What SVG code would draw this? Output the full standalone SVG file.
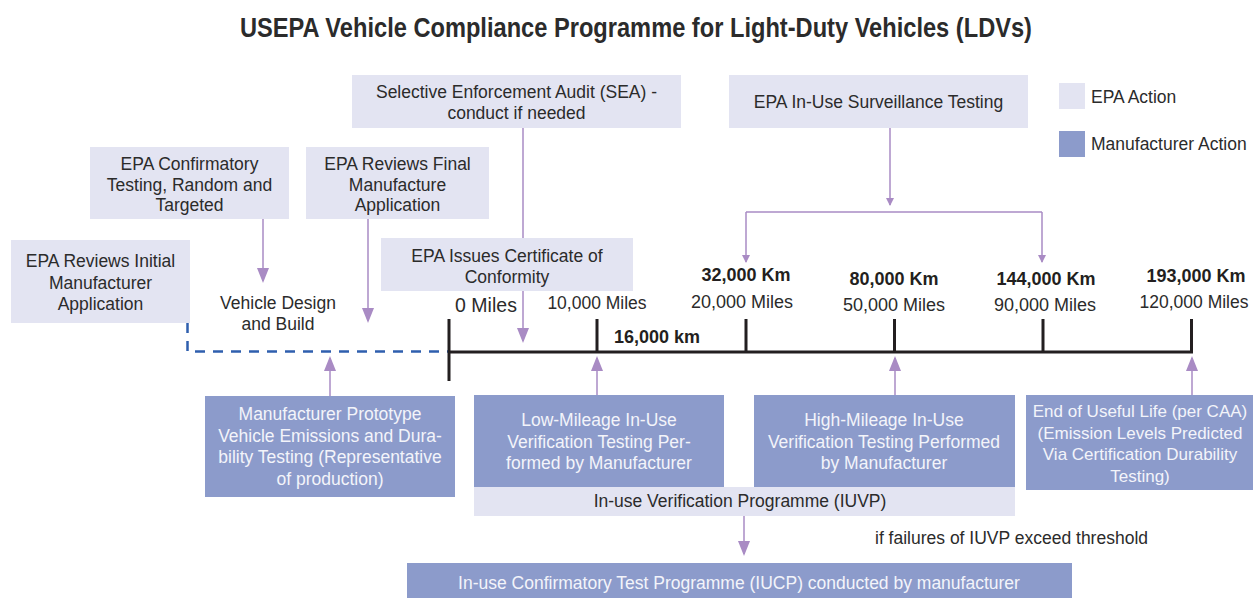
<svg xmlns="http://www.w3.org/2000/svg" width="1253" height="598" viewBox="0 0 1253 598">
  <style>
    text { font-family: "Liberation Sans", Arial, sans-serif; fill: #2b2b2b; }
    .t { font-size: 17.5px; text-anchor: middle; }
    .w { fill: #f3f4fa; }
    .km { font-size: 18px; font-weight: bold; text-anchor: middle; fill: #231f20; }
    .mi { font-size: 18px; text-anchor: middle; }
    .epa { fill: #e3e4f2; }
    .mfr { fill: #8c9bcb; }
    .arrow { fill: none; stroke: #a98bc4; stroke-width: 1.5; }
    .big { marker-end: url(#head); }
    .small { marker-end: url(#headSmall); }
    .axis { stroke: #231f20; stroke-width: 3; fill: none; }
  </style>
  <defs>
    <marker id="head" viewBox="0 0 15 12" refX="13" refY="6" markerWidth="15" markerHeight="12" markerUnits="userSpaceOnUse" orient="auto">
      <path d="M0,0 L15,6 L0,12 Z" fill="#a98bc4"/>
    </marker>
    <marker id="headSmall" viewBox="0 0 8 8" refX="7" refY="4" markerWidth="8" markerHeight="8" markerUnits="userSpaceOnUse" orient="auto">
      <path d="M0,0 L8,4 L0,8 Z" fill="#a98bc4"/>
    </marker>
  </defs>

  <text x="636" y="37" font-size="27" font-weight="bold" text-anchor="middle" textLength="792" lengthAdjust="spacingAndGlyphs" fill="#231f20">USEPA Vehicle Compliance Programme for Light-Duty Vehicles (LDVs)</text>

  <!-- legend -->
  <g id="legend">
    <rect class="epa" x="1059" y="83" width="26" height="26"/>
    <text x="1091" y="103" font-size="17.5">EPA Action</text>
    <rect class="mfr" x="1059" y="131" width="26" height="26"/>
    <text x="1091" y="150" font-size="17.5">Manufacturer Action</text>
  </g>

  <!-- mileage timeline -->
  <g id="timeline">
    <path d="M187.5,323 V351.5 H448" fill="none" stroke="#2f5fae" stroke-width="2.5" stroke-dasharray="10 8"/>
    <path class="axis" d="M449,352 H1193"/>
    <path class="axis" d="M449,319 V381 M597,319 V352 M746,319 V352 M894.5,319 V352 M1043,319 V352 M1191.5,319 V352"/>
    <text class="mi" x="486" y="312" style="font-size:19.5px">0 Miles</text>
    <text class="mi" x="597" y="309" style="font-size:17.5px">10,000 Miles</text>
    <text class="km" x="657" y="343">16,000 km</text>
    <text class="km" x="746" y="281">32,000 Km</text>
    <text class="mi" x="742" y="308">20,000 Miles</text>
    <text class="km" x="894" y="285">80,000 Km</text>
    <text class="mi" x="894" y="311">50,000 Miles</text>
    <text class="km" x="1046" y="285">144,000 Km</text>
    <text class="mi" x="1045" y="311">90,000 Miles</text>
    <text class="km" x="1196" y="282">193,000 Km</text>
    <text class="mi" x="1194" y="308" style="font-size:17.5px">120,000 Miles</text>
  </g>

  <g id="initial-review">
    <rect class="epa" x="11" y="240" width="179" height="83"/>
    <text class="t" x="100.5" y="267">EPA Reviews Initial</text>
    <text class="t" x="100.5" y="288.5">Manufacturer</text>
    <text class="t" x="100.5" y="310">Application</text>
  </g>

  <g id="confirmatory-testing">
    <rect class="epa" x="90" y="147" width="199" height="72"/>
    <text class="t" x="189.5" y="170">EPA Confirmatory</text>
    <text class="t" x="189.5" y="190.5">Testing, Random and</text>
    <text class="t" x="189.5" y="211">Targeted</text>
  </g>

  <g id="final-review">
    <rect class="epa" x="306" y="147" width="183" height="72"/>
    <text class="t" x="397.5" y="170">EPA Reviews Final</text>
    <text class="t" x="397.5" y="190.5">Manufacture</text>
    <text class="t" x="397.5" y="211">Application</text>
  </g>

  <g id="design-build">
    <text class="t" x="278" y="309">Vehicle Design</text>
    <text class="t" x="278" y="330">and Build</text>
  </g>

  <g id="sea">
    <rect class="epa" x="352" y="75" width="329" height="53"/>
    <text class="t" x="516.5" y="98">Selective Enforcement Audit (SEA) -</text>
    <text class="t" x="516.5" y="118.5">conduct if needed</text>
  </g>

  <g id="certificate">
    <rect class="epa" x="381" y="238" width="252" height="53"/>
    <text class="t" x="507" y="262">EPA Issues Certificate of</text>
    <text class="t" x="507" y="282.5">Conformity</text>
  </g>

  <g id="surveillance">
    <rect class="epa" x="729" y="75" width="299" height="53"/>
    <text class="t" x="878.5" y="108">EPA In-Use Surveillance Testing</text>
  </g>

  <g id="prototype-testing">
    <rect class="mfr" x="205" y="396" width="250" height="101"/>
    <text class="t w" x="330" y="420">Manufacturer Prototype</text>
    <text class="t w" x="330" y="441.5">Vehicle Emissions and Dura-</text>
    <text class="t w" x="330" y="463">bility Testing (Representative</text>
    <text class="t w" x="330" y="484.5">of production)</text>
  </g>

  <g id="iuvp">
    <rect class="epa" x="474" y="487" width="541" height="29"/>
    <text class="t" x="740" y="507">In-use Verification Programme (IUVP)</text>
  </g>

  <g id="low-mileage">
    <rect class="mfr" x="474" y="395" width="250" height="92"/>
    <text class="t w" x="599" y="426">Low-Mileage In-Use</text>
    <text class="t w" x="599" y="447.5">Verification Testing Per-</text>
    <text class="t w" x="599" y="469">formed by Manufacturer</text>
  </g>

  <g id="high-mileage">
    <rect class="mfr" x="754" y="395" width="261" height="92"/>
    <text class="t w" x="884" y="426">High-Mileage In-Use</text>
    <text class="t w" x="884" y="447.5">Verification Testing Performed</text>
    <text class="t w" x="884" y="469">by Manufacturer</text>
  </g>

  <g id="end-of-life">
    <rect class="mfr" x="1026" y="395" width="227" height="95"/>
    <text class="t w" x="1140" y="417" style="font-size:17px">End of Useful Life (per CAA)</text>
    <text class="t w" x="1140" y="438.5" style="font-size:17px">(Emission Levels Predicted</text>
    <text class="t w" x="1140" y="460" style="font-size:17px">Via Certification Durability</text>
    <text class="t w" x="1140" y="481.5" style="font-size:17px">Testing)</text>
  </g>

  <g id="iucp">
    <rect class="mfr" x="407" y="563" width="665" height="35"/>
    <text class="t w" x="739" y="589">In-use Confirmatory Test Programme (IUCP) conducted by manufacturer</text>
  </g>

  <g id="threshold-note">
    <text x="875" y="544" font-size="17.5">if failures of IUVP exceed threshold</text>
  </g>

  <!-- connectors -->
  <g id="connectors">
    <path class="arrow big" d="M263,219 V281"/>
    <path class="arrow big" d="M368,219 V321"/>
    <path class="arrow" d="M523,128 V238"/>
    <path class="arrow big" d="M523,291 V341"/>
    <path class="arrow small" d="M890,128 V205"/>
    <path class="arrow" d="M746,212 H1042"/>
    <path class="arrow small" d="M746,212 V262"/>
    <path class="arrow small" d="M1042,212 V262"/>
    <path class="arrow big" d="M330,396 V358"/>
    <path class="arrow big" d="M597,395 V358"/>
    <path class="arrow big" d="M895,395 V358"/>
    <path class="arrow big" d="M1192,395 V358"/>
    <path class="arrow big" d="M744,516 V554"/>
  </g>
</svg>
